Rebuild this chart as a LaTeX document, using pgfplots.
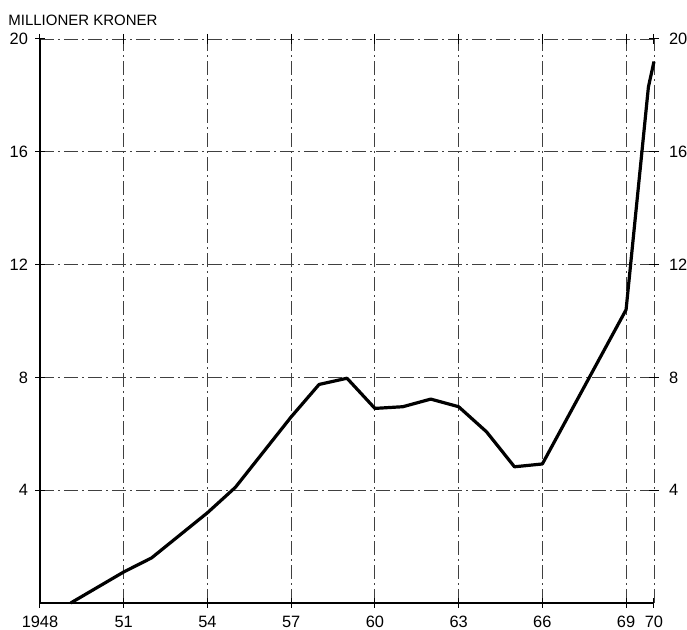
\documentclass[border=0pt]{standalone}
\usepackage{pgfplots}
\pgfplotsset{compat=1.18}
\usepackage{fontspec}
\setmainfont{Liberation Sans}
\begin{document}
\begin{tikzpicture}
\pgfplotsset{
  common/.style={
    width=307pt, height=282pt, scale only axis,
    at={(0,0)}, anchor=south west,
    xmin=1948, xmax=1970, ymin=0, ymax=20,
    /pgf/number format/assume math mode=true,
    tick label style={font=\fontsize{8.2}{9}\selectfont},
  }
}
\begin{axis}[common,
  axis line style={draw=none},
  xtick={1948,1951,1954,1957,1960,1963,1966,1969,1970},
  xticklabels={1948,51,54,57,60,63,66,69,70},
  ytick={4,8,12,16,20},
  tick align=center, major tick length=5pt,
  tick style={black, line width=0.5pt},
  xtick pos=both, ytick pos=left,
  xticklabel style={yshift=-0.5pt},
  yticklabel style={xshift=0pt},
  grid=major,
  grid style={black!75, line width=0.45pt, dash pattern=on 7pt off 2pt on 1pt off 2pt},
  clip=false,
]
\draw[black, line width=1pt] (axis cs:1948,20) -- (axis cs:1948,0) -- (axis cs:1970,0);
\addplot[black, line width=1.6pt, line join=round] coordinates {
 (1949.1,0) (1951,1.1) (1952,1.6) (1954,3.2) (1955,4.1) (1957,6.6)
 (1958,7.75) (1959,7.97) (1960,6.9) (1961,6.96) (1962,7.23) (1963,6.96)
 (1964,6.07) (1965,4.83) (1966,4.93) (1969,10.4) (1969.8,18.3) (1970,19.2)
};
\node[anchor=base west, inner sep=0pt, font=\fontsize{7.5}{9}\selectfont] at ([xshift=-16pt,yshift=6.5pt]axis cs:1948,20) {MILLIONER KRONER};
\end{axis}
\begin{axis}[common,
  axis line style={draw=none},
  axis y line*=right, axis x line=none,
  ytick={4,8,12,16,20},
  tick align=center, major tick length=5pt,
  tick style={black, line width=0.5pt},
  yticklabel style={xshift=1.5pt},
]
\end{axis}
\pgfresetboundingbox
\path[use as bounding box] (-20pt,-13.5pt) rectangle (323.5pt,301.5pt);
\end{tikzpicture}
\end{document}
